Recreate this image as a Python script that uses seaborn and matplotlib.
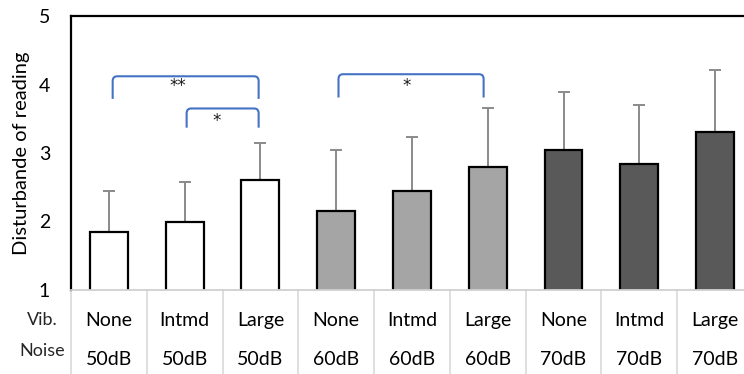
import matplotlib
matplotlib.use("Agg")
import matplotlib.pyplot as plt
from matplotlib.path import Path
from matplotlib.patches import PathPatch
import matplotlib.transforms as mtransforms
import seaborn as sns
import pandas as pd
import numpy as np

# ---- data ----
vib_labels = ["None", "Intmd", "Large", "None", "Intmd", "Large", "None", "Intmd", "Large"]
noise_labels = ["50dB", "50dB", "50dB", "60dB", "60dB", "60dB", "70dB", "70dB", "70dB"]
means = [1.84, 2.00, 2.60, 2.15, 2.44, 2.79, 3.05, 2.84, 3.31]
sds = [0.60, 0.57, 0.55, 0.89, 0.79, 0.86, 0.84, 0.86, 0.90]
# significance brackets: (left bar, right bar, label)
sig_pairs = [(0, 2, "**"), (1, 2, "*"), (3, 5, "*")]

sns.set_theme(style="white")
plt.rcParams["font.family"] = ["Lato", "DejaVu Sans"]

df = pd.DataFrame({
    "cond": [f"{v}\n{n}_{i}" for i, (v, n) in enumerate(zip(vib_labels, noise_labels))],
    "mean": means,
    "noise": noise_labels,
})

fig = plt.figure(figsize=(7.44, 3.74), dpi=100)
ax = fig.add_axes([71 / 744, 84 / 374, 682 / 744, 274 / 374])

palette = {"50dB": "#ffffff", "60dB": "#a5a5a5", "70dB": "#595959"}
sns.barplot(data=df, x="cond", y="mean", hue="noise", palette=palette, dodge=False,
            width=0.5, edgecolor="black", linewidth=1.6, legend=False, ax=ax, zorder=2)

xs = np.arange(len(means))
ax.errorbar(xs, means, yerr=sds, fmt="none", ecolor="#8a8a8a", elinewidth=1.4,
            capsize=4, capthick=1.4, zorder=1)

ax.set_ylim(1, 5)
ax.set_xlim(-0.5, len(means) - 0.5)
ax.set_yticks([1, 2, 3, 4, 5])
ax.tick_params(axis="y", length=0, pad=15, labelsize=14, labelcolor="black")
ax.tick_params(axis="x", length=0, labelbottom=False)
ax.set_xlabel("")
ax.set_ylabel("")

for s in ["top", "left"]:
    ax.spines[s].set_color("black")
    ax.spines[s].set_linewidth(1.6)
ax.spines["right"].set_visible(False)
ax.spines["bottom"].set_color("#d0d0d0")
ax.spines["bottom"].set_linewidth(1.3)

fig.text(22 / 744, 1 - 153 / 374, "Disturbande of reading", rotation=90,
         ha="center", va="center", fontsize=14.5, color="black")

# category table
trans = mtransforms.blended_transform_factory(ax.transData, ax.transAxes)
for i, (v, n) in enumerate(zip(vib_labels, noise_labels)):
    ax.text(i, -0.113, v, transform=trans, ha="center", va="center", fontsize=14, color="black")
    ax.text(i, -0.252, n, transform=trans, ha="center", va="center", fontsize=14, color="black")
for b in np.arange(-0.5, len(means), 1.0):
    ax.plot([b, b], [0, -0.35], transform=trans, color="#d9d9d9", lw=1.2, clip_on=False)
ax.text(-0.0425, -0.109, "Vib.", transform=ax.transAxes, ha="center", va="center", fontsize=13)
ax.text(-0.0425, -0.223, "Noise", transform=ax.transAxes, ha="center", va="center", fontsize=13)

# significance brackets
def bracket(x0, x1, ytop, ybot, label, lx, ly):
    rx, ry = 0.06, 0.07
    verts = [(x0, ybot), (x0, ytop - ry), (x0, ytop), (x0 + rx, ytop),
             (x1 - rx, ytop), (x1, ytop), (x1, ytop - ry), (x1, ybot)]
    codes = [Path.MOVETO, Path.LINETO, Path.CURVE3, Path.CURVE3,
             Path.LINETO, Path.CURVE3, Path.CURVE3, Path.LINETO]
    ax.add_patch(PathPatch(Path(verts, codes), fill=False, edgecolor="#4472c4", lw=1.5, zorder=3))
    ax.text(lx, ly, label, ha="center", va="baseline", fontsize=12,
            family="DejaVu Sans", color="#1a1a1a")

geom = {(0, 2): (0.05, 1.976, 4.12, 3.79, 0.91, 3.90),
        (1, 2): (1.026, 1.976, 3.65, 3.37, 1.42, 3.39),
        (3, 5): (3.03, 4.945, 4.15, 3.81, 3.93, 3.91)}
for a, b, lab in sig_pairs:
    x0, x1, yt, yb, lx, ly = geom[(a, b)]
    bracket(x0, x1, yt, yb, lab, lx, ly)

fig.savefig("out.png", dpi=100)
